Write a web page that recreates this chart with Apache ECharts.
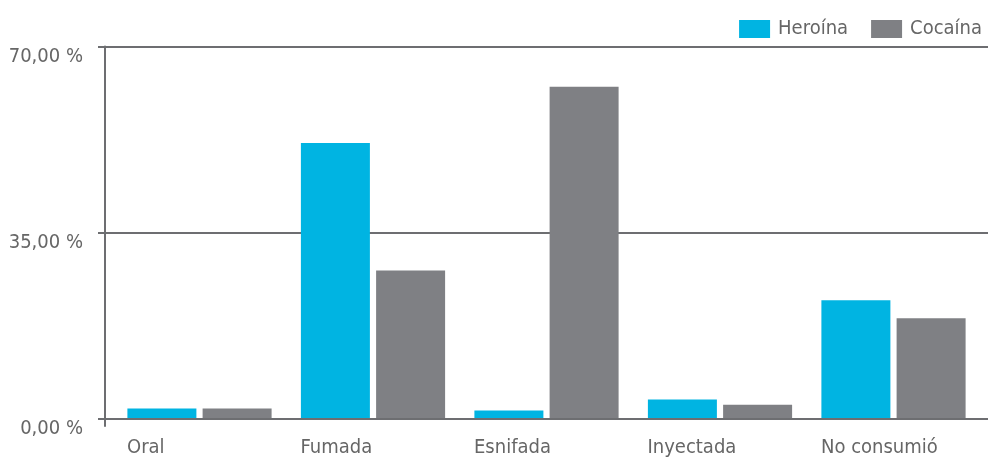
<!DOCTYPE html>
<html>
<head>
<meta charset="utf-8">
<script src="https://cdn.jsdelivr.net/npm/echarts@6/dist/echarts.min.js"></script>
<style>
    html, body { margin: 0; padding: 0; background: #fff; }
    #main { width: 988px; height: 458px; }
</style>
</head>
<body>
<div id="main"></div>
<script>
var categories = ["Oral", "Fumada", "Esnifada", "Inyectada", "No consumió"];
var heroina = [1.8, 51.8, 1.4, 3.5, 22.2];
var cocaina = [1.8, 27.8, 62.4, 2.5, 18.8];
var yTicks = [0, 35, 70];

var FONT = "'Liberation Sans Narrow', 'DejaVu Sans Condensed', sans-serif";
var TEXT = "#666666";
var LINE = "#6d6e71";

function pct(v) {
    return v.toFixed(2).replace(".", ",") + " %";
}

var chart = echarts.init(document.getElementById("main"));
chart.setOption({
    backgroundColor: "#ffffff",
    animation: false,
    legend: {
        right: 1,
        top: 14,
        itemWidth: 31,
        itemHeight: 18,
        itemGap: 23,
        icon: "rect",
        textStyle: { fontFamily: FONT, fontSize: 20, color: TEXT, padding: [0, 0, 0, 3] },
        data: ["Heroína", "Cocaína"]
    },
    grid: [
        { left: 105, right: 0, top: 46.5, bottom: 39.3 },
        { left: 112.75, right: 7.75, top: 46.5, bottom: 39.3 }
    ],
    xAxis: [
        {
            // frame axis: only the zero line and the stub below the y axis
            gridIndex: 0,
            type: "value",
            min: 0,
            max: 1,
            interval: 1,
            axisLine: { show: true, lineStyle: { color: LINE, width: 2 } },
            axisTick: { show: true, length: 8, customValues: [0], lineStyle: { color: LINE, width: 2 } },
            axisLabel: { show: false },
            splitLine: { show: false }
        },
        {
            gridIndex: 1,
            type: "category",
            data: categories,
            axisLine: { show: false },
            axisTick: { show: false },
            axisLabel: {
                interval: 0,
                margin: 20,
                align: "center",
                formatter: function (v) { return "{a|" + v + "}"; },
                rich: {
                    a: { width: 145, align: "left", fontFamily: FONT, fontSize: 20, color: TEXT }
                }
            }
        }
    ],
    yAxis: [
        {
            gridIndex: 0,
            type: "value",
            min: yTicks[0],
            max: yTicks[yTicks.length - 1],
            interval: yTicks[1] - yTicks[0],
            axisLine: { show: true, lineStyle: { color: LINE, width: 2 } },
            axisTick: { show: true, length: 7, lineStyle: { color: LINE, width: 2 } },
            axisLabel: {
                margin: 22,
                verticalAlign: "top",
                fontFamily: FONT,
                fontSize: 20,
                color: TEXT,
                formatter: pct
            },
            splitLine: { show: true, lineStyle: { color: LINE, width: 2 } }
        },
        {
            gridIndex: 1,
            type: "value",
            min: yTicks[0],
            max: yTicks[yTicks.length - 1],
            show: false
        }
    ],
    series: [
        {
            name: "Heroína",
            type: "bar",
            xAxisIndex: 1,
            yAxisIndex: 1,
            barWidth: 69,
            barGap: "9%",
            itemStyle: { color: "#00b4e2" },
            data: heroina
        },
        {
            name: "Cocaína",
            type: "bar",
            xAxisIndex: 1,
            yAxisIndex: 1,
            barWidth: 69,
            barGap: "9%",
            itemStyle: { color: "#7f8084" },
            data: cocaina
        }
    ]
});
</script>
</body>
</html>
